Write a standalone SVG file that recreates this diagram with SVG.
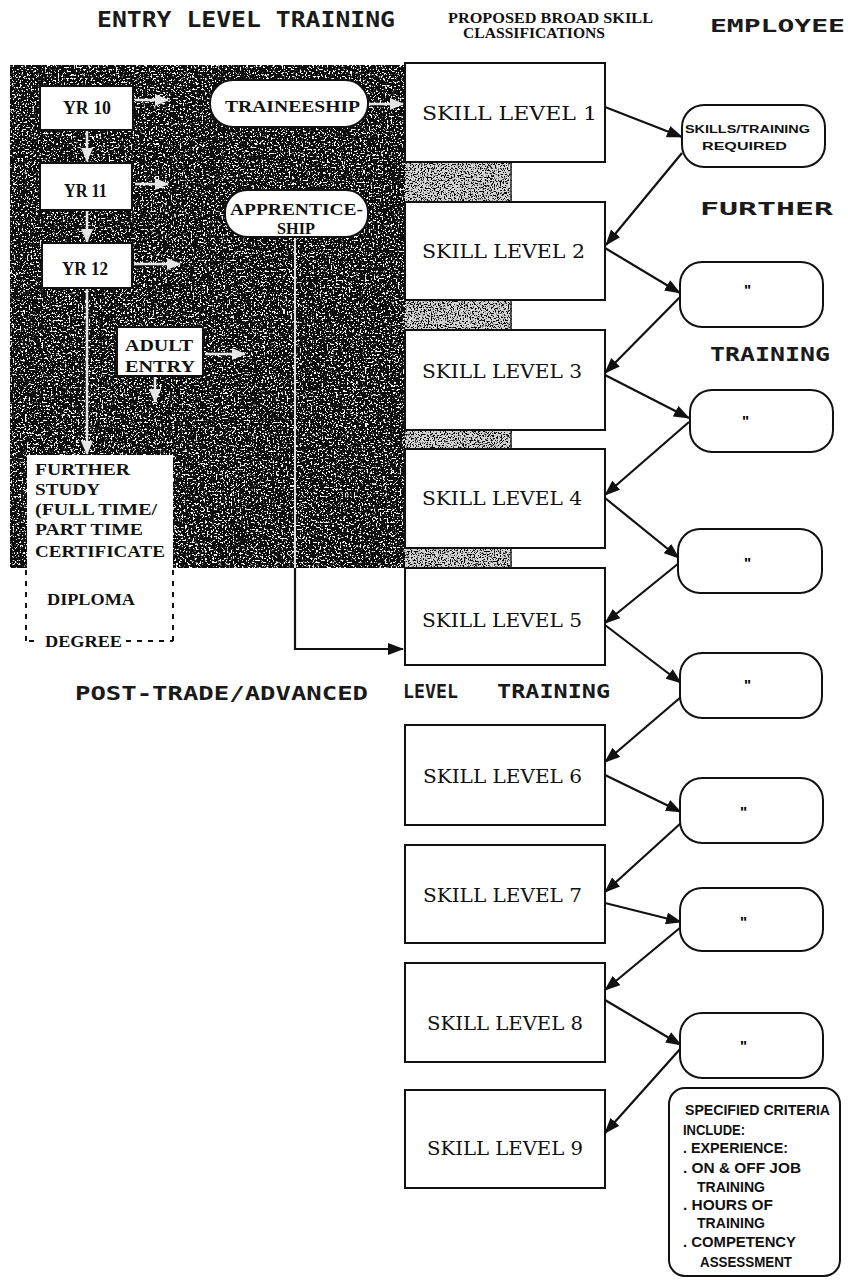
<svg xmlns="http://www.w3.org/2000/svg" width="848" height="1280" viewBox="0 0 848 1280">
<style>
.box{fill:#fff;stroke:#111;stroke-width:2}
.rbox{fill:#fff;stroke:#111;stroke-width:2}
.sk{font-family:"DejaVu Serif","Liberation Serif",serif;font-size:18px;fill:#111}
.lb{font-family:"Liberation Serif","DejaVu Serif",serif;font-weight:bold;font-size:17px;fill:#111}
.yr{font-size:19px}
.hd{font-family:"DejaVu Sans Mono","Liberation Mono",monospace;font-weight:bold;fill:#1a1a1a}
.ss{font-family:"Liberation Sans","DejaVu Sans",sans-serif;font-weight:bold;fill:#111}
.cap{font-family:"Liberation Serif",serif;font-weight:bold;font-size:15px;fill:#111}
.q{font-family:"Liberation Sans",sans-serif;font-size:15px;font-weight:bold;fill:#000}
.con{stroke:#111;stroke-width:2.2;fill:none}
.wcon{stroke:#e6e6e6;stroke-width:2.5;fill:none}
.dash{stroke:#111;stroke-width:2;stroke-dasharray:5 6;fill:none}
</style>
<defs>
<marker id="ah" markerUnits="userSpaceOnUse" markerWidth="16" markerHeight="12" refX="15" refY="6" orient="auto"><path d="M0,0 L16,6 L0,12 z" fill="#111"/></marker>
<marker id="wah" markerUnits="userSpaceOnUse" markerWidth="14" markerHeight="12" refX="13" refY="6" orient="auto"><path d="M0,0 L14,6 L0,12 z" fill="#e6e6e6"/></marker>
<filter id="spk" x="0" y="0" width="1" height="1">
<feTurbulence type="fractalNoise" baseFrequency="0.55" numOctaves="3" seed="11" result="t"/>
<feColorMatrix in="t" type="matrix" values="0 0 0 0 1  0 0 0 0 1  0 0 0 0 1  14 0 0 0 -8.1"/>
<feComposite in2="SourceGraphic" operator="in"/>
</filter>
<filter id="spk2" x="0" y="0" width="1" height="1">
<feTurbulence type="fractalNoise" baseFrequency="0.7" numOctaves="2" seed="5" result="t"/>
<feColorMatrix in="t" type="matrix" values="0 0 0 0 0  0 0 0 0 0  0 0 0 0 0  10 0 0 0 -5.2"/>
<feComposite in2="SourceGraphic" operator="in"/>
</filter>
</defs>
<rect width="848" height="1280" fill="#fff"/>

<g id="shade">
<rect x="405" y="65" width="107" height="503" fill="#d4d4d4"/>
<rect x="405" y="65" width="107" height="503" fill="#000" filter="url(#spk2)"/>
<line x1="511" y1="160" x2="511" y2="568" stroke="#333" stroke-width="1.5"/>
<rect x="10" y="65" width="395" height="503" fill="#0c0c0c"/>
<rect x="10" y="65" width="395" height="503" fill="#fff" filter="url(#spk)"/>
</g>

<g id="headings">
<text class="hd" x="97" y="27" font-size="22" textLength="298" lengthAdjust="spacingAndGlyphs" font-weight="normal">ENTRY LEVEL TRAINING</text>
<text class="cap" x="448" y="23" textLength="205" lengthAdjust="spacingAndGlyphs">PROPOSED BROAD SKILL</text>
<text class="cap" x="463" y="38" textLength="142" lengthAdjust="spacingAndGlyphs">CLASSIFICATIONS</text>
<text class="hd" x="710" y="32" font-size="17" textLength="135" lengthAdjust="spacingAndGlyphs" font-weight="normal">EMPLOYEE</text>
<text class="hd" x="700" y="215" font-size="17" textLength="133" lengthAdjust="spacingAndGlyphs" font-weight="normal">FURTHER</text>
<text class="hd" x="710" y="361" font-size="19" textLength="120" lengthAdjust="spacingAndGlyphs" font-weight="normal">TRAINING</text>
<text class="hd" x="75" y="700" font-size="20" textLength="293" lengthAdjust="spacingAndGlyphs">POST-TRADE/ADVANCED</text>
<text class="hd" x="403" y="698" font-size="20" textLength="55" lengthAdjust="spacingAndGlyphs">LEVEL</text>
<text class="hd" x="497" y="698" font-size="20" textLength="113" lengthAdjust="spacingAndGlyphs">TRAINING</text>
</g>

<g id="connectors">
<line class="wcon" x1="135" y1="100" x2="168" y2="100" marker-end="url(#wah)"/>
<line class="wcon" x1="135" y1="184" x2="168" y2="184" marker-end="url(#wah)"/>
<line class="wcon" x1="134" y1="264" x2="180" y2="264" marker-end="url(#wah)"/>
<line class="wcon" x1="205" y1="354" x2="245" y2="354" marker-end="url(#wah)"/>
<line class="wcon" x1="87" y1="130" x2="87" y2="161" marker-end="url(#wah)"/>
<line class="wcon" x1="87" y1="210" x2="87" y2="242" marker-end="url(#wah)"/>
<line class="wcon" x1="87" y1="288" x2="87" y2="454" stroke-width="1.8" marker-end="url(#wah)"/>
<line class="wcon" x1="155" y1="376" x2="155" y2="402" marker-end="url(#wah)"/>
<line class="wcon" x1="368" y1="104" x2="403" y2="104" marker-end="url(#wah)"/>
<line x1="295" y1="237" x2="295" y2="568" stroke="#ddd" stroke-width="2"/>
<polyline class="con" points="295,568 295,649 403,649" marker-end="url(#ah)"/>
<line class="con" x1="605" y1="107" x2="682" y2="137" marker-end="url(#ah)"/>
<line class="con" x1="682" y1="153" x2="606" y2="245" marker-end="url(#ah)"/>
<line class="con" x1="605" y1="248" x2="680" y2="293" marker-end="url(#ah)"/>
<line class="con" x1="680" y1="297" x2="605" y2="373" marker-end="url(#ah)"/>
<line class="con" x1="605" y1="375" x2="689" y2="418" marker-end="url(#ah)"/>
<line class="con" x1="689" y1="422" x2="605" y2="495" marker-end="url(#ah)"/>
<line class="con" x1="605" y1="498" x2="679" y2="558" marker-end="url(#ah)"/>
<line class="con" x1="679" y1="563" x2="605" y2="623" marker-end="url(#ah)"/>
<line class="con" x1="605" y1="625" x2="681" y2="683" marker-end="url(#ah)"/>
<line class="con" x1="681" y1="697" x2="605" y2="762" marker-end="url(#ah)"/>
<line class="con" x1="605" y1="775" x2="681" y2="812" marker-end="url(#ah)"/>
<line class="con" x1="681" y1="823" x2="605" y2="892" marker-end="url(#ah)"/>
<line class="con" x1="605" y1="903" x2="681" y2="922" marker-end="url(#ah)"/>
<line class="con" x1="681" y1="927" x2="605" y2="990" marker-end="url(#ah)"/>
<line class="con" x1="605" y1="1000" x2="681" y2="1045" marker-end="url(#ah)"/>
<line class="con" x1="681" y1="1048" x2="605" y2="1133" marker-end="url(#ah)"/>
</g>

<g id="yr10"><rect class="box" x="40" y="86" width="93" height="44"/><text class="lb yr" x="63" y="114" textLength="48" lengthAdjust="spacingAndGlyphs">YR 10</text></g>
<g id="yr11"><rect class="box" x="40" y="163" width="92" height="47"/><text class="lb yr" x="64" y="197" textLength="43" lengthAdjust="spacingAndGlyphs">YR 11</text></g>
<g id="yr12"><rect class="box" x="42" y="243" width="90" height="45"/><text class="lb yr" x="62" y="275" textLength="46" lengthAdjust="spacingAndGlyphs">YR 12</text></g>
<g id="adult"><rect class="box" x="117" y="327" width="86" height="49"/>
<text class="lb" x="125" y="351" textLength="68" lengthAdjust="spacingAndGlyphs">ADULT</text>
<text class="lb" x="125" y="372" textLength="70" lengthAdjust="spacingAndGlyphs">ENTRY</text></g>
<g id="traineeship"><rect class="box" x="210" y="80" width="158" height="47" rx="23"/><text class="lb" x="225" y="112" textLength="135" lengthAdjust="spacingAndGlyphs">TRAINEESHIP</text></g>
<g id="apprenticeship"><rect class="box" x="225" y="190" width="143" height="47" rx="22"/>
<text class="lb" x="230" y="215" textLength="133" lengthAdjust="spacingAndGlyphs">APPRENTICE-</text>
<text class="lb" x="277" y="234" textLength="38" lengthAdjust="spacingAndGlyphs">SHIP</text></g>

<g id="further-study">
<rect x="27" y="455" width="146" height="113" fill="#fff"/>
<line class="dash" x1="26" y1="570" x2="26" y2="641"/>
<line class="dash" x1="173" y1="570" x2="173" y2="641"/>
<line class="dash" x1="29" y1="641" x2="40" y2="641"/>
<line class="dash" x1="126" y1="641" x2="173" y2="641"/>
<text class="lb" x="35" y="475" textLength="95" lengthAdjust="spacingAndGlyphs">FURTHER</text>
<text class="lb" x="35" y="495" textLength="65" lengthAdjust="spacingAndGlyphs">STUDY</text>
<text class="lb" x="35" y="515" textLength="122" lengthAdjust="spacingAndGlyphs">(FULL TIME/</text>
<text class="lb" x="35" y="535" textLength="108" lengthAdjust="spacingAndGlyphs">PART TIME</text>
<text class="lb" x="35" y="557" textLength="130" lengthAdjust="spacingAndGlyphs">CERTIFICATE</text>
<text class="lb" x="47" y="605" textLength="88" lengthAdjust="spacingAndGlyphs">DIPLOMA</text>
<text class="lb" x="45" y="647" textLength="77" lengthAdjust="spacingAndGlyphs">DEGREE</text>
</g>

<g id="skill1"><rect class="box" x="405" y="63" width="200" height="99"/><text class="sk" x="422" y="120" textLength="175" lengthAdjust="spacingAndGlyphs">SKILL  LEVEL 1</text></g>
<g id="skill2"><rect class="box" x="405" y="202" width="200" height="98"/><text class="sk" x="422" y="258" textLength="163" lengthAdjust="spacingAndGlyphs">SKILL  LEVEL 2</text></g>
<g id="skill3"><rect class="box" x="405" y="330" width="200" height="100"/><text class="sk" x="422" y="378" textLength="160" lengthAdjust="spacingAndGlyphs">SKILL LEVEL 3</text></g>
<g id="skill4"><rect class="box" x="405" y="449" width="200" height="99"/><text class="sk" x="422" y="505" textLength="160" lengthAdjust="spacingAndGlyphs">SKILL LEVEL 4</text></g>
<g id="skill5"><rect class="box" x="405" y="568" width="200" height="97"/><text class="sk" x="422" y="627" textLength="160" lengthAdjust="spacingAndGlyphs">SKILL LEVEL 5</text></g>
<g id="skill6"><rect class="box" x="405" y="725" width="200" height="100"/><text class="sk" x="423" y="783" textLength="159" lengthAdjust="spacingAndGlyphs">SKILL LEVEL 6</text></g>
<g id="skill7"><rect class="box" x="405" y="845" width="200" height="98"/><text class="sk" x="423" y="902" textLength="159" lengthAdjust="spacingAndGlyphs">SKILL LEVEL 7</text></g>
<g id="skill8"><rect class="box" x="405" y="963" width="200" height="99"/><text class="sk" x="427" y="1030" textLength="156" lengthAdjust="spacingAndGlyphs">SKILL LEVEL 8</text></g>
<g id="skill9"><rect class="box" x="405" y="1090" width="200" height="98"/><text class="sk" x="427" y="1155" textLength="156" lengthAdjust="spacingAndGlyphs">SKILL LEVEL 9</text></g>

<g id="req1"><rect class="rbox" x="682" y="105" width="143" height="62" rx="22"/>
<text class="ss" x="685" y="133" font-size="11" textLength="125" lengthAdjust="spacingAndGlyphs">SKILLS/TRAINING</text>
<text class="ss" x="702" y="150" font-size="11" textLength="85" lengthAdjust="spacingAndGlyphs">REQUIRED</text></g>
<g id="req2"><rect class="rbox" x="680" y="262" width="143" height="65" rx="22"/><text class="q" x="744" y="295">"</text></g>
<g id="req3"><rect class="rbox" x="690" y="390" width="143" height="62" rx="22"/><text class="q" x="742" y="426">"</text></g>
<g id="req4"><rect class="rbox" x="678" y="529" width="144" height="64" rx="22"/><text class="q" x="744" y="568">"</text></g>
<g id="req5"><rect class="rbox" x="680" y="653" width="142" height="65" rx="22"/><text class="q" x="744" y="690">"</text></g>
<g id="req6"><rect class="rbox" x="680" y="778" width="143" height="65" rx="22"/><text class="q" x="740" y="817">"</text></g>
<g id="req7"><rect class="rbox" x="680" y="888" width="143" height="63" rx="22"/><text class="q" x="740" y="927">"</text></g>
<g id="req8"><rect class="rbox" x="680" y="1013" width="143" height="65" rx="22"/><text class="q" x="740" y="1051">"</text></g>
<g id="criteria"><rect class="rbox" x="669" y="1088" width="171" height="188" rx="16"/>
<text class="ss" x="685" y="1115" font-size="14" textLength="145" lengthAdjust="spacingAndGlyphs">SPECIFIED CRITERIA</text>
<text class="ss" x="683" y="1135" font-size="14" textLength="62" lengthAdjust="spacingAndGlyphs">INCLUDE:</text>
<text class="ss" x="683" y="1153" font-size="14" textLength="105" lengthAdjust="spacingAndGlyphs">. EXPERIENCE:</text>
<text class="ss" x="683" y="1173" font-size="14" textLength="118" lengthAdjust="spacingAndGlyphs">. ON &amp; OFF JOB</text>
<text class="ss" x="697" y="1192" font-size="14" textLength="68" lengthAdjust="spacingAndGlyphs">TRAINING</text>
<text class="ss" x="683" y="1210" font-size="14" textLength="90" lengthAdjust="spacingAndGlyphs">. HOURS OF</text>
<text class="ss" x="697" y="1228" font-size="14" textLength="68" lengthAdjust="spacingAndGlyphs">TRAINING</text>
<text class="ss" x="683" y="1247" font-size="14" textLength="113" lengthAdjust="spacingAndGlyphs">. COMPETENCY</text>
<text class="ss" x="700" y="1267" font-size="14" textLength="92" lengthAdjust="spacingAndGlyphs">ASSESSMENT</text></g>
</svg>
